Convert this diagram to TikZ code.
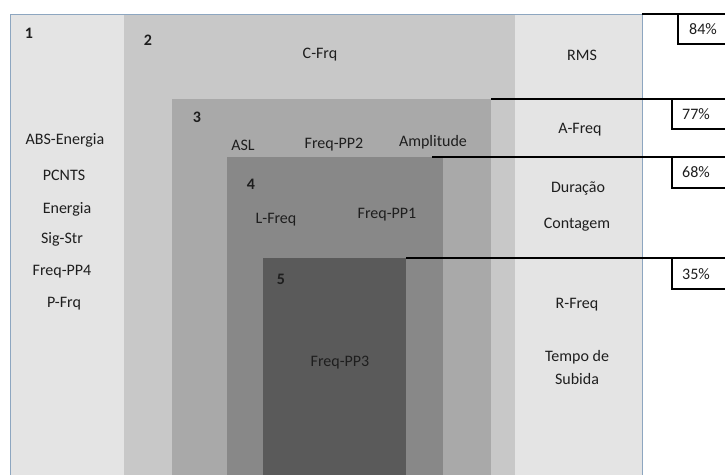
\documentclass[tikz,border=0pt]{standalone}
\usepackage{fontspec}
\setmainfont{Carlito}
\definecolor{cA}{HTML}{E4E4E4}
\definecolor{cB}{HTML}{C8C8C8}
\definecolor{cC}{HTML}{A9A9A9}
\definecolor{cD}{HTML}{888888}
\definecolor{cE}{HTML}{5A5A5A}
\definecolor{edge}{HTML}{8DA6C0}
\definecolor{ink}{HTML}{1E1E1E}
\begin{document}
\begin{tikzpicture}[x=1pt,y=-1pt,
  lbl/.style={font=\fontsize{16}{19}\selectfont, text=ink, inner sep=0pt, anchor=center},
  num/.style={font=\fontsize{16}{19}\selectfont\bfseries, text=ink, inner sep=0pt, anchor=center},
  pct/.style={font=\fontsize{16}{19}\selectfont, text=ink, inner sep=0pt, anchor=center},
  pbox/.style={draw=black, line width=2pt, fill=white},
  guide/.style={draw=black, line width=2pt}]
\useasboundingbox (0,0) rectangle (725,474);
\clip (0,0) rectangle (725,474);
\fill[white] (0,0) rectangle (725,474);
% regions
\fill[cA] (10,14) rectangle (642,480);
\fill[cB] (124,14) rectangle (515,480);
\fill[cC] (172,99) rectangle (491,480);
\fill[cD] (227,157) rectangle (443,480);
\fill[cE] (263,258) rectangle (406,480);
\draw[edge, line width=1pt] (10,480) -- (10,14) -- (642,14) -- (642,480);
% coordinates for guide lines
\coordinate (g1) at (642,14);
\coordinate (g2) at (491,99);
\coordinate (g3) at (432,157);
\coordinate (g4) at (406,258);
\coordinate (e1) at (730,14);
\coordinate (e2) at (730,99);
\coordinate (e3) at (730,157);
\coordinate (e4) at (730,258);
\draw[guide] (g1) -- (e1);
\draw[guide] (g2) -- (e2);
\draw[guide] (g3) -- (e3);
\draw[guide] (g4) -- (e4);
% percent boxes
\draw[pbox] (678,14) rectangle (740,44);
\draw[pbox] (672,99) rectangle (740,129);
\draw[pbox] (672,157) rectangle (740,188);
\draw[pbox] (672,258) rectangle (740,289);
\node[pct] (p1) at (703,29) {84\%};
\node[pct] (p2) at (696,114) {77\%};
\node[pct] (p3) at (696,172) {68\%};
\node[pct] (p4) at (696,274) {35\%};
% region numbers
\node[num] (n1) at (29,33) {1};
\node[num] (n2) at (148,40) {2};
\node[num] (n3) at (197,117) {3};
\node[num] (n4) at (251,184) {4};
\node[num] (n5) at (281,279) {5};
% region 1 labels
\node[lbl] (t1) at (65,140) {ABS-Energia};
\node[lbl] (t2) at (64,175) {PCNTS};
\node[lbl] (t3) at (67,209) {Energia};
\node[lbl] (t4) at (62,239) {Sig-Str};
\node[lbl] (t5) at (62,272) {Freq-PP4};
\node[lbl] (t6) at (64,304) {P-Frq};
% right column labels
\node[lbl] (r1) at (582,55) {RMS};
\node[lbl] (r2) at (580,130) {A-Freq};
\node[lbl] (r3) at (578,188) {Duração};
\node[lbl] (r4) at (577,225) {Contagem};
\node[lbl] (r5) at (577,305) {R-Freq};
\node[lbl] (r6) at (577,357) {Tempo de};
\node[lbl] (r7) at (577,379) {Subida};
% region 2
\node[lbl] (c1) at (320,55) {C-Frq};
% region 3
\node[lbl] (a1) at (243,145) {ASL};
\node[lbl] (a2) at (334,145) {Freq-PP2};
\node[lbl] (a3) at (433,142) {Amplitude};
% region 4
\node[lbl] (l1) at (276,220) {L-Freq};
\node[lbl] (l2) at (387,215) {Freq-PP1};
% region 5
\node[lbl] (f1) at (340,363) {Freq-PP3};
\end{tikzpicture}
\end{document}
